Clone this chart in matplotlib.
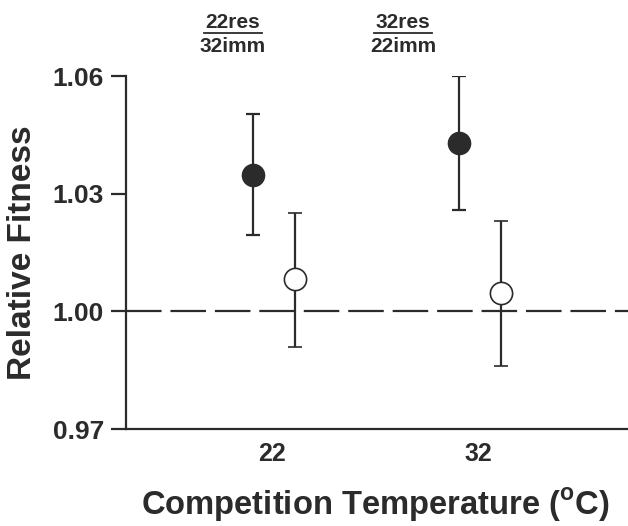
import matplotlib
matplotlib.use("Agg")
import matplotlib.pyplot as plt

plt.rcParams['font.family'] = ['Liberation Sans', 'DejaVu Sans']
plt.rcParams['mathtext.fontset'] = 'custom'
plt.rcParams['mathtext.bf'] = 'Liberation Sans:bold'
plt.rcParams['mathtext.rm'] = 'Liberation Sans:bold'

temps = ["22", "32"]
headers_top = ["22res", "32res"]
headers_bottom = ["32imm", "22imm"]
res_mean = [1.0348, 1.0428]
res_hi = [1.0504, 1.0599]
res_lo = [1.0194, 1.0258]
imm_mean = [1.0082, 1.0048]
imm_hi = [1.0251, 1.0231]
imm_lo = [0.9910, 0.9861]
yticks = [0.97, 1.00, 1.03, 1.06]

C = '#2b2b2b'
fig = plt.figure(figsize=(6.28, 5.26), dpi=100)
ax = fig.add_axes([0.2006, 0.1844, 0.7994, 0.6711])

pos = [1, 2]
off_res, off_imm = -0.09, 0.11
xr = [p + off_res for p in pos]
xi = [p + off_imm for p in pos]

ax.axhline(1.0, color=C, lw=1.6, dashes=(16, 4), zorder=1)

ax.errorbar(xr, res_mean,
            yerr=[[m - l for m, l in zip(res_mean, res_lo)], [h - m for m, h in zip(res_mean, res_hi)]],
            fmt='o', ms=16, mfc=C, mec=C, ecolor=C, elinewidth=1.6, capsize=4.7, capthick=1.6, zorder=3)
ax.errorbar(xi, imm_mean,
            yerr=[[m - l for m, l in zip(imm_mean, imm_lo)], [h - m for m, h in zip(imm_mean, imm_hi)]],
            fmt='o', ms=16, mfc='white', mec=C, mew=1.2, ecolor=C, elinewidth=1.6, capsize=4.7, capthick=1.6, zorder=3)

ax.set_xlim(0.291, 2.728)
ax.set_ylim(0.97, 1.06)
ax.set_yticks(yticks)
ax.set_yticklabels([f"{v:.2f}" for v in yticks], fontsize=19, fontweight='bold', color=C)
ax.set_xticks(pos)
ax.set_xticklabels(temps, fontsize=18, fontweight='bold', color=C)
ax.tick_params(axis='x', length=0, pad=9)
ax.tick_params(axis='y', length=11, width=1.6, color=C, pad=5)

for s in ['top', 'right']:
    ax.spines[s].set_visible(False)
for s in ['left', 'bottom']:
    ax.spines[s].set_linewidth(1.6)
    ax.spines[s].set_color(C)

ax.set_ylabel("Relative Fitness", fontsize=24, fontweight='bold', color=C, labelpad=10)
fig.text(375 / 628, 1 - 505 / 526, r"Competition Temperature ($^{\mathbf{o}}$C)",
         ha='center', va='center', fontsize=23.6, fontweight='bold', color=C)

hx = [233 / 628, 403 / 628]
for x, t, b in zip(hx, headers_top, headers_bottom):
    fig.text(x, 1 - 22 / 526, t, ha='center', va='center', fontsize=15, fontweight='bold', color=C)
    fig.text(x, 1 - 47 / 526, b, ha='center', va='center', fontsize=15, fontweight='bold', color=C)
    fig.add_artist(plt.Line2D([x - 0.046, x + 0.046], [1 - 32.5 / 526, 1 - 32.5 / 526], color=C, lw=1.3))

fig.savefig("out.png", dpi=100)
